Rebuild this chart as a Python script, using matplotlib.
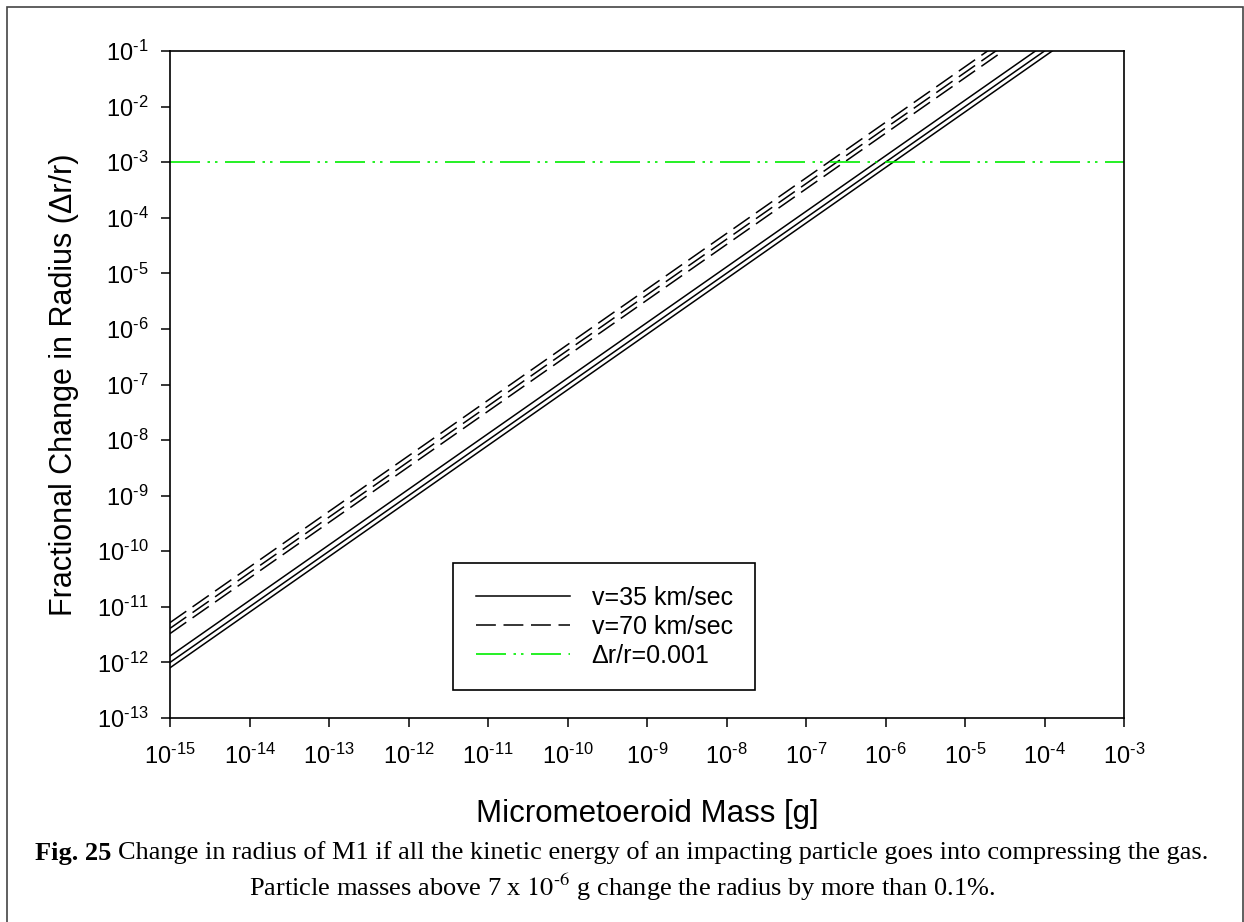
import matplotlib
matplotlib.use('Agg')
import matplotlib.pyplot as plt
from matplotlib.patches import Rectangle
from matplotlib.ticker import FuncFormatter
import numpy as np

plt.rcParams['font.family'] = ['Liberation Sans', 'DejaVu Sans']
plt.rcParams['mathtext.fontset'] = 'custom'
plt.rcParams['mathtext.rm'] = 'Liberation Sans'
plt.rcParams['mathtext.it'] = 'Liberation Sans:italic'
plt.rcParams['mathtext.bf'] = 'Liberation Sans:bold'

# mass [g] at the two ends of each line, fractional change read at those ends
mass = [1e-15, 1e-3]
v35_a = [1.3e-12, 1.3e0]
v35_b = [1.0e-12, 1.0e0]
v35_c = [8.0e-13, 8.0e-1]
v70_a = [5.2e-12, 5.2e0]
v70_b = [4.1e-12, 4.1e0]
v70_c = [3.3e-12, 3.3e0]
limit_x = [1e-15, 1e-3]
limit_y = [1e-3, 1e-3]

HYPHEN = '\u2010'

W, H = 1244, 922
fig = plt.figure(figsize=(W / 100, H / 100), dpi=100)
ax = fig.add_axes([170 / W, 1 - 718 / H, (1124 - 170) / W, (718 - 51) / H])

for y in [v35_a, v35_b, v35_c]:
    ax.plot(mass, y, color='black', lw=1.1, label='v=35 km/sec')
for y in [v70_a, v70_b, v70_c]:
    ax.plot(mass, y, color='black', lw=1.1, linestyle=(0, (13, 5)), label='v=70 km/sec')
ax.plot(limit_x, limit_y, color='#00ee00', lw=1.2,
        linestyle=(0, (18, 4.5, 1.5, 3, 1.5, 4.5)), label='\u0394r/r=0.001')

ax.set_xscale('log')
ax.set_yscale('log')
ax.set_xlim(1e-15, 1e-3)
ax.set_ylim(1e-13, 1e-1)
ax.set_xticks([10.0 ** e for e in range(-15, -2)])
ax.set_yticks([10.0 ** e for e in range(-13, 0)])
ax.minorticks_off()


def pow10(v, pos):
    e = int(round(np.log10(v)))
    return '$\\mathdefault{10^{' + HYPHEN + str(abs(e)) + '}}$'


ax.xaxis.set_major_formatter(FuncFormatter(pow10))
ax.yaxis.set_major_formatter(FuncFormatter(pow10))
ax.tick_params(direction='out', length=6.5, width=1.1, labelsize=17)
ax.tick_params(axis='x', pad=12)
ax.tick_params(axis='y', pad=9)
for s in ax.spines.values():
    s.set_linewidth(1.2)

ax.set_xlabel('Micrometoeroid Mass [g]', fontsize=22.5, labelpad=22)
ax.set_ylabel('Fractional Change in Radius (\u0394r/r)', fontsize=22, labelpad=13)

h, l = ax.get_legend_handles_labels()
leg = ax.legend([h[0], h[3], h[6]], [l[0], l[3], l[6]], loc='upper left',
                bbox_to_anchor=(453 / W, 1 - 563 / H), bbox_transform=fig.transFigure,
                borderaxespad=0, fontsize=18, frameon=True, fancybox=False, framealpha=1,
                edgecolor='black', borderpad=0.9, labelspacing=0.2,
                handlelength=3.76, handletextpad=0.88)
leg.get_frame().set_linewidth(1.2)

# outer frame of the figure
fig.patches.append(Rectangle((7 / W, -0.05), (1243 - 7) / W, 1.05 - 7 / H,
                             transform=fig.transFigure, fill=False,
                             edgecolor='#444444', lw=1.2))

# caption
cap = dict(family='Liberation Serif', fontsize=19, color='black')
fig.canvas.draw()
r = fig.canvas.get_renderer()
t1 = fig.text(0, 1 - 853 / H, 'Fig. 25', weight='bold', va='center', **cap)
t2 = fig.text(0, 1 - 853 / H, 'Change in radius of M1 if all the kinetic energy of an impacting '
              'particle goes into compressing the gas.', va='center', **cap)
w1 = t1.get_window_extent(r).width
w2 = t2.get_window_extent(r).width
gap = 0.25 * 19 * 100 / 72
x0 = (W - w1 - gap - w2) / 2
t1.set_x(x0 / W)
t2.set_x((x0 + w1 + gap) / W)
fig.text(0.5, 1 - 887 / H, 'Particle masses above 7 x $10^{' + HYPHEN + '6}$ g change the radius by more than 0.1%.',
         ha='center', va='center', math_fontfamily='stix', **cap)

fig.savefig('out.png', dpi=100)
